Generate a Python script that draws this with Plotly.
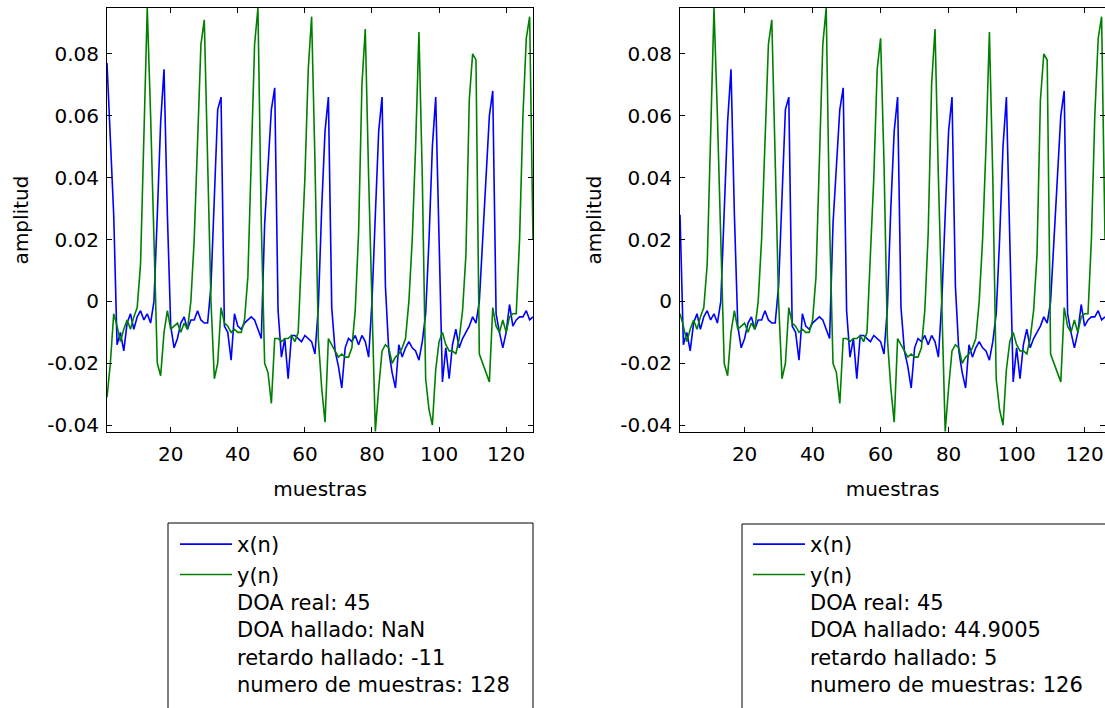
import plotly.graph_objects as go

# ---------------- data ----------------
n_left = list(range(1, 129))
n_right = list(range(1, 127))

x_left = [
    0.077, 0.052, 0.028, -0.014, -0.010, -0.016, -0.007, -0.004, -0.009, -0.005,
    -0.003, -0.006, -0.004, -0.007, 0.000, 0.028, 0.058, 0.075, 0.028, -0.008,
    -0.015, -0.012, -0.007, -0.005, -0.009, -0.006, -0.006, -0.003, -0.006, -0.007,
    -0.007, 0.005, 0.035, 0.062, 0.066, -0.008, -0.010, -0.019, -0.004, -0.008,
    -0.009, -0.007, -0.006, -0.005, -0.006, -0.009, -0.012, 0.025, 0.045, 0.062,
    0.069, -0.003, -0.018, -0.012, -0.025, -0.011, -0.011, -0.012, -0.013, -0.011,
    -0.012, -0.013, -0.017, -0.002, 0.030, 0.055, 0.066, -0.002, -0.016, -0.021,
    -0.028, -0.015, -0.012, -0.013, -0.011, -0.014, -0.011, -0.013, -0.018, 0.000,
    0.028, 0.055, 0.066, 0.005, -0.016, -0.023, -0.028, -0.014, -0.018, -0.015,
    -0.013, -0.015, -0.016, -0.019, -0.013, -0.004, 0.020, 0.050, 0.066, 0.020,
    -0.026, -0.015, -0.025, -0.014, -0.009, -0.015, -0.012, -0.010, -0.008, -0.005,
    -0.007, 0.000, 0.020, 0.040, 0.060, 0.068, -0.004, -0.010, -0.015, -0.010,
    -0.001, -0.008, -0.006, -0.005, -0.005, -0.003, -0.006, -0.005,
]

y_left = [
    -0.031, -0.020, -0.004, -0.008, -0.013, -0.009, -0.006, -0.009, -0.005, -0.002,
    0.012, 0.050, 0.0948, 0.060, 0.020, -0.020, -0.024, -0.010, -0.003, -0.009,
    -0.008, -0.007, -0.010, -0.007, -0.009, 0.000, 0.020, 0.055, 0.083, 0.091,
    0.050, 0.000, -0.025, -0.020, -0.002, -0.007, -0.008, -0.010, -0.009, -0.010,
    -0.010, -0.006, 0.008, 0.050, 0.083, 0.0948, 0.025, -0.020, -0.023, -0.033,
    -0.012, -0.012, -0.013, -0.012, -0.012, -0.011, -0.013, -0.010, 0.015, 0.040,
    0.075, 0.092, 0.045, -0.012, -0.028, -0.039, -0.012, -0.014, -0.016, -0.018,
    -0.017, -0.018, -0.018, -0.015, -0.003, 0.022, 0.070, 0.088, 0.040, -0.005,
    -0.042, -0.028, -0.016, -0.014, -0.015, -0.020, -0.018, -0.017, -0.015, -0.012,
    0.000, 0.020, 0.050, 0.087, 0.040, -0.025, -0.035, -0.040, -0.022, -0.013,
    -0.010, -0.014, -0.016, -0.016, -0.017, -0.012, -0.003, 0.015, 0.065, 0.080,
    0.078, -0.017, -0.020, -0.023, -0.026, -0.002, -0.008, -0.010, -0.006, -0.010,
    -0.005, -0.004, -0.004, 0.020, 0.060, 0.085, 0.092, 0.020,
]

x_right = [
    0.028, -0.014, -0.010, -0.016, -0.007, -0.004, -0.009, -0.005, -0.003, -0.006,
    -0.004, -0.007, 0.000, 0.028, 0.058, 0.075, 0.028, -0.008, -0.015, -0.012,
    -0.007, -0.005, -0.009, -0.006, -0.006, -0.003, -0.006, -0.007, -0.007, 0.005,
    0.035, 0.062, 0.066, -0.008, -0.010, -0.019, -0.004, -0.008, -0.009, -0.007,
    -0.006, -0.005, -0.006, -0.009, -0.012, 0.025, 0.045, 0.062, 0.069, -0.003,
    -0.018, -0.012, -0.025, -0.011, -0.011, -0.012, -0.013, -0.011, -0.012, -0.013,
    -0.017, -0.002, 0.030, 0.055, 0.066, -0.002, -0.016, -0.021, -0.028, -0.015,
    -0.012, -0.013, -0.011, -0.014, -0.011, -0.013, -0.018, 0.000, 0.028, 0.055,
    0.066, 0.005, -0.016, -0.023, -0.028, -0.014, -0.018, -0.015, -0.013, -0.015,
    -0.016, -0.019, -0.013, -0.004, 0.020, 0.050, 0.066, 0.020, -0.026, -0.015,
    -0.025, -0.014, -0.009, -0.015, -0.012, -0.010, -0.008, -0.005, -0.007, 0.000,
    0.020, 0.040, 0.060, 0.068, -0.004, -0.010, -0.015, -0.010, -0.001, -0.008,
    -0.006, -0.005, -0.005, -0.003, -0.006, -0.005,
]

y_right = [
    -0.004, -0.008, -0.013, -0.009, -0.006, -0.009, -0.005, -0.002, 0.012, 0.050,
    0.0948, 0.060, 0.020, -0.020, -0.024, -0.010, -0.003, -0.009, -0.008, -0.007,
    -0.010, -0.007, -0.009, 0.000, 0.020, 0.055, 0.083, 0.091, 0.050, 0.000,
    -0.025, -0.020, -0.002, -0.007, -0.008, -0.010, -0.009, -0.010, -0.010, -0.006,
    0.008, 0.050, 0.083, 0.0948, 0.025, -0.020, -0.023, -0.033, -0.012, -0.012,
    -0.013, -0.012, -0.012, -0.011, -0.013, -0.010, 0.015, 0.040, 0.075, 0.085,
    0.045, -0.012, -0.028, -0.039, -0.012, -0.014, -0.016, -0.018, -0.017, -0.018,
    -0.018, -0.015, -0.003, 0.022, 0.070, 0.088, 0.040, -0.005, -0.042, -0.028,
    -0.016, -0.014, -0.015, -0.020, -0.018, -0.017, -0.015, -0.012, 0.000, 0.020,
    0.050, 0.087, 0.040, -0.025, -0.035, -0.040, -0.022, -0.013, -0.010, -0.014,
    -0.016, -0.016, -0.017, -0.012, -0.003, 0.015, 0.065, 0.080, 0.078, -0.017,
    -0.020, -0.023, -0.026, -0.002, -0.008, -0.010, -0.006, -0.010, -0.005, -0.004,
    -0.004, 0.020, 0.060, 0.085, 0.092, 0.020,
]

x_ticks = [20, 40, 60, 80, 100, 120]
y_ticks = [-0.04, -0.02, 0, 0.02, 0.04, 0.06, 0.08]
y_ticktext = ["-0.04", "-0.02", "0", "0.02", "0.04", "0.06", "0.08"]

legend_left = ["x(n)", "y(n)", "DOA real: 45", "DOA hallado: NaN",
               "retardo hallado: -11", "numero de muestras: 128"]
legend_right = ["x(n)", "y(n)", "DOA real: 45", "DOA hallado: 44.9005",
                "retardo hallado: 5", "numero de muestras: 126"]

# ---------------- figure ----------------
W, H = 1105, 708
FONT = "DejaVu Sans"
BLUE, GREEN = "#0000ff", "#008000"
LW = 1.6

fig = go.Figure()
fig.add_trace(go.Scatter(x=n_left, y=x_left, mode="lines", name=legend_left[0],
                         line=dict(color=BLUE, width=LW), xaxis="x", yaxis="y",
                         legend="legend"))
fig.add_trace(go.Scatter(x=n_left, y=y_left, mode="lines",
                         name="<br>".join(legend_left[1:]) + "<br> ",
                         line=dict(color=GREEN, width=LW), xaxis="x", yaxis="y",
                         legend="legend"))
fig.add_trace(go.Scatter(x=n_right, y=x_right, mode="lines", name=legend_right[0],
                         line=dict(color=BLUE, width=LW), xaxis="x2", yaxis="y2",
                         legend="legend2"))
fig.add_trace(go.Scatter(x=n_right, y=y_right, mode="lines",
                         name="<br>".join(legend_right[1:]) + "<br> ",
                         line=dict(color=GREEN, width=LW), xaxis="x2", yaxis="y2",
                         legend="legend2"))

tickfont = dict(family=FONT, size=20, color="black")
common = dict(showline=True, linecolor="black", linewidth=1, mirror="ticks",
              ticks="inside", ticklen=5, tickcolor="black", showgrid=False,
              zeroline=False, tickfont=tickfont)

ydom = [1 - 432 / H, 1 - 8 / H]
yrange = [-0.0422, 0.0948]

xcommon = dict(tickvals=x_ticks, ticklabelstandoff=4,
               title=dict(text="muestras", font=tickfont, standoff=16), **common)
ycommon = dict(range=yrange, tickvals=y_ticks, ticktext=y_ticktext, domain=ydom,
               ticklabelstandoff=3,
               title=dict(text="amplitud", font=tickfont, standoff=13), **common)

legfont = dict(family=FONT, size=21, color="black")
legcommon = dict(yanchor="top", xanchor="left", borderwidth=0,
                 bgcolor="rgba(0,0,0,0)", font=legfont, valign="top",
                 itemwidth=52, tracegroupgap=0)

fig.update_layout(
    width=W, height=H,
    margin=dict(l=0, r=0, t=0, b=0, autoexpand=False),
    paper_bgcolor="white", plot_bgcolor="white",
    showlegend=True,
    xaxis=dict(domain=[107 / W, 533 / W], range=[1, 128], anchor="y", **xcommon),
    yaxis=dict(anchor="x", **ycommon),
    xaxis2=dict(domain=[680 / W, 1.0], range=[1, 126], anchor="y2", **xcommon),
    yaxis2=dict(anchor="x2", **ycommon),
    legend=dict(x=175 / W, y=1 - 524 / H, **legcommon),
    legend2=dict(x=748 / W, y=1 - 524 / H, **legcommon),
    shapes=[
        dict(type="rect", xref="paper", yref="paper",
             x0=168 / W, x1=533 / W, y0=-0.1, y1=1 - 523 / H,
             line=dict(color="black", width=1), fillcolor="white", layer="below"),
        dict(type="rect", xref="paper", yref="paper",
             x0=742 / W, x1=1.1, y0=-0.1, y1=1 - 524 / H,
             line=dict(color="black", width=1), fillcolor="white", layer="below"),
    ],
)

fig.write_html("out.html")
